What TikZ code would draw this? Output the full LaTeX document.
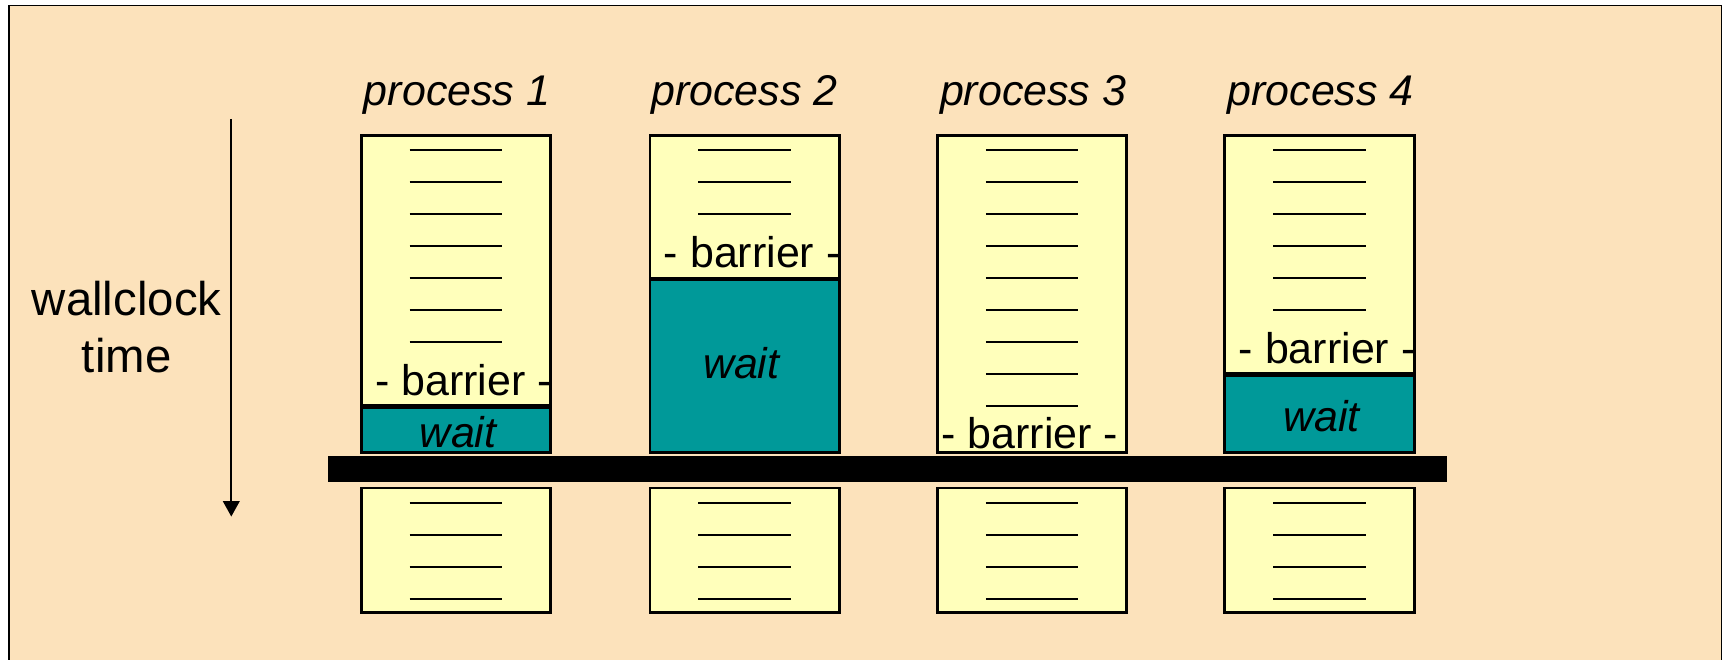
\documentclass[tikz,border=0pt]{standalone}
\usepackage{fontspec}
\setmainfont{Liberation Sans}
\usepackage{tikz}
\usetikzlibrary{arrows.meta}
\definecolor{slidebg}{HTML}{FCE2BB}
\definecolor{codeyellow}{HTML}{FFFFBB}
\definecolor{waitteal}{HTML}{009999}

\begin{document}
\begin{tikzpicture}[x=0.5pt,y=-0.5pt,every node/.style={font=\fontsize{19.5}{22}\selectfont, inner sep=0pt},codebox/.style={draw, line width=1.2pt, fill=codeyellow},waitbox/.style={draw, line width=1.2pt, fill=waitteal},splitline/.style={line width=1.9pt},stmt/.style={line width=0.9pt},proclabel/.style={font=\fontsize{19.5}{22}\selectfont\itshape}]

	\useasboundingbox (0,0) rectangle (1568,599);
	\clip (0,0) rectangle (1568,599);
	\fill[white] (0,0) rectangle (1568,599);
	\draw[fill=slidebg, line width=0.8pt] (8,5) rectangle (1563,640);

	% time axis
	\coordinate (tstart) at (210,108);
	\coordinate (tend) at (210,469);
	\draw[line width=0.9pt, -{Triangle[length=7pt,width=7.5pt]}] (tstart) -- (tend);
	\node[align=center, font=\fontsize{21.5}{25.5}\selectfont] (wallclock) at (115,297) {wallclock\\time};

	% process labels
	\foreach \i/\xc in {1/415,2/676,3/938,4/1199}
		\node[proclabel] (label\i) at (\xc,86) {process \i};

	% process 1
	\draw[codebox] (328,123) rectangle (500,411);
	\draw[waitbox] (328,369) rectangle (500,411);
	\draw[splitline] (328,369) -- (500,369);
	\foreach \k in {0,...,6}
		\draw[stmt] (372,{136+29.1*\k}) -- (456,{136+29.1*\k});
	\node (barrier1) at (421,345) {- barrier -};
	\node[proclabel] (wait1) at (416,392) {wait};

	% process 2
	\draw[codebox] (590,123) rectangle (762,411);
	\draw[waitbox] (590,253) rectangle (762,411);
	\draw[splitline] (590,253) -- (762,253);
	\foreach \k in {0,...,2}
		\draw[stmt] (634,{136+29.1*\k}) -- (718,{136+29.1*\k});
	\node (barrier2) at (683,229) {- barrier -};
	\node[proclabel] (wait2) at (673,330) {wait};

	% process 3
	\draw[codebox] (851,123) rectangle (1023,411);
	\foreach \k in {0,...,8}
		\draw[stmt] (895,{136+29.1*\k}) -- (979,{136+29.1*\k});
	\node (barrier3) at (935,393) {- barrier -};

	% process 4
	\draw[codebox] (1112,123) rectangle (1284,411);
	\draw[waitbox] (1112,340) rectangle (1284,411);
	\draw[splitline] (1112,340) -- (1284,340);
	\foreach \k in {0,...,5}
		\draw[stmt] (1156,{136+29.1*\k}) -- (1240,{136+29.1*\k});
	\node (barrier4) at (1205,316) {- barrier -};
	\node[proclabel] (wait4) at (1200,378) {wait};

	% barrier
	\fill (298,414) rectangle (1314,438);

	% after the barrier
	\foreach \l in {328,590,851,1112}{
		\draw[codebox] (\l,443) rectangle ++(172,113);
		\foreach \k in {0,...,3}
			\draw[stmt] ({\l+44},{457+29*\k}) -- ++(84,0);
	}
\end{tikzpicture}
\end{document}
